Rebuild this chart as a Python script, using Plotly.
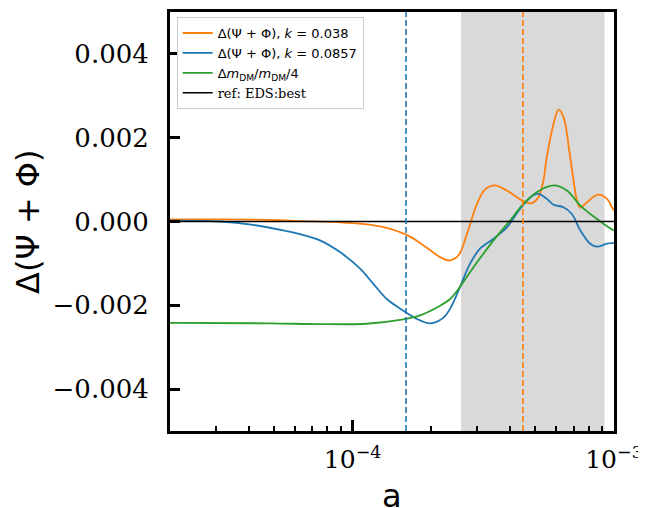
import plotly.graph_objects as go
import math

# ---- data ----
a_k038 = [2.00e-5, 3.10e-5, 4.82e-5, 6.45e-5, 8.18e-5, 1.00e-4, 1.20e-4, 1.35e-4, 1.61e-4, 1.87e-4,
          2.16e-4, 2.35e-4, 2.54e-4, 2.74e-4, 2.99e-4, 3.21e-4, 3.49e-4, 3.89e-4, 4.25e-4, 4.64e-4,
          4.85e-4, 5.14e-4, 5.37e-4, 5.53e-4, 5.87e-4, 6.14e-4, 6.41e-4, 6.80e-4, 7.22e-4, 7.43e-4,
          7.88e-4, 8.69e-4, 9.40e-4, 9.82e-4, 1.00e-3]
d_k038 = [0.00005, 0.00005, 0.00004, 0.00001, -0.00001, -0.00004, -0.00009, -0.00015, -0.00032, -0.00057,
          -0.00085, -0.00093, -0.00081, -0.00029, 0.00042, 0.00076, 0.00086, 0.00074, 0.00058, 0.00045,
          0.00044, 0.00058, 0.00098, 0.00153, 0.00233, 0.00267, 0.00249, 0.00153, 0.00050, 0.00033,
          0.00046, 0.00064, 0.00054, 0.00034, 0.00026]

a_k0857 = [2.00e-5, 3.10e-5, 4.15e-5, 5.60e-5, 6.28e-5, 7.50e-5, 8.94e-5, 1.07e-4, 1.20e-4, 1.35e-4,
           1.52e-4, 1.73e-4, 1.98e-4, 2.22e-4, 2.36e-4, 2.54e-4, 2.81e-4, 3.07e-4, 3.46e-4, 3.89e-4,
           4.37e-4, 4.85e-4, 5.14e-4, 5.53e-4, 5.87e-4, 6.41e-4, 6.90e-4, 7.43e-4, 8.11e-4, 8.61e-4,
           9.40e-4, 1.00e-3]
d_k0857 = [0.00002, 0.00000, -0.00008, -0.00023, -0.00030, -0.00045, -0.00073, -0.00113, -0.00149, -0.00185,
           -0.00208, -0.00230, -0.00243, -0.00230, -0.00208, -0.00165, -0.00101, -0.00065, -0.00041, -0.00014,
           0.00030, 0.00060, 0.00066, 0.00054, 0.00040, 0.00034, 0.00018, -0.00021, -0.00053, -0.00060,
           -0.00053, -0.00051]

a_mdm = [2.00e-5, 4.82e-5, 7.49e-5, 1.13e-4, 1.52e-4, 1.81e-4, 2.16e-4, 2.36e-4, 2.54e-4, 2.90e-4,
         3.46e-4, 4.00e-4, 4.50e-4, 5.06e-4, 5.87e-4, 6.60e-4, 7.43e-4, 8.61e-4, 9.89e-4, 1.00e-3]
d_mdm = [-0.00242, -0.00243, -0.00245, -0.00244, -0.00235, -0.00224, -0.00201, -0.00185, -0.00161, -0.00109,
         -0.00045, 0.00002, 0.00042, 0.00070, 0.00086, 0.00074, 0.00038, 0.00006, -0.00020, -0.00021]

a_ref = [2.0e-5, 1.0e-3]
d_ref = [0.0, 0.0]

a_vline_k0857 = 1.6e-4
a_vline_k038 = 4.48e-4
band_a = [2.6e-4, 9.2e-4]

x_range = [2.0e-5, 1.0e-3]
y_range = [-0.005, 0.005]
y_ticks = [-0.004, -0.002, 0.0, 0.002, 0.004]
x_major = [1e-4, 1e-3]
x_major_text = ["10<sup>−4</sup>", "10<sup>−3</sup>"]
x_minor = [m * 1e-5 for m in range(2, 10)] + [m * 1e-4 for m in range(2, 10)]

ORANGE = "#ff7f0e"
BLUE = "#1f77b4"
GREEN = "#2ca02c"

fig = go.Figure()
fig.add_trace(go.Scatter(x=a_k038, y=d_k038, mode="lines", line=dict(color=ORANGE, width=1.8, shape="spline"),
                         name="Δ(Ψ + Φ), <i>k</i> = 0.038"))
fig.add_trace(go.Scatter(x=a_k0857, y=d_k0857, mode="lines", line=dict(color=BLUE, width=1.8, shape="spline"),
                         name="Δ(Ψ + Φ), <i>k</i> = 0.0857"))
fig.add_trace(go.Scatter(x=a_mdm, y=d_mdm, mode="lines", line=dict(color=GREEN, width=1.8, shape="spline"),
                         name="Δ<i>m</i><sub>DM</sub>/<i>m</i><sub>DM</sub>/4"))
fig.add_trace(go.Scatter(x=a_ref, y=d_ref, mode="lines", line=dict(color="black", width=1.5),
                         name="<span style='font-family:DejaVu Serif'>ref: EDS:best</span>"))

fig.add_shape(type="rect", xref="x", yref="paper", x0=band_a[0], x1=band_a[1], y0=0, y1=1,
              fillcolor="#d9d9d9", line=dict(width=0), layer="below")
fig.add_shape(type="line", xref="x", yref="paper", x0=a_vline_k0857, x1=a_vline_k0857, y0=0, y1=1,
              line=dict(color=BLUE, width=1.6, dash="6px,3px"), layer="above")
fig.add_shape(type="line", xref="x", yref="paper", x0=a_vline_k038, x1=a_vline_k038, y0=0, y1=1,
              line=dict(color=ORANGE, width=1.6, dash="6px,3px"), layer="above")

fig.add_annotation(text="a", xref="paper", yref="paper", x=0.5, y=-0.155, xanchor="center", yanchor="middle",
                   showarrow=False, font=dict(family="DejaVu Sans", size=32, color="black"))
fig.add_annotation(text="Δ(Ψ + Φ)", xref="paper", yref="paper", x=-0.321, y=0.5, xanchor="center",
                   yanchor="middle", textangle=-90, showarrow=False,
                   font=dict(family="DejaVu Sans", size=32, color="black"))

# the page body has an 8px default margin: shrink the figure by 8px and pull left/top margins in
fig.update_layout(
    width=638, height=500,
    margin=dict(l=162, r=32, t=4, b=77),
    paper_bgcolor="white", plot_bgcolor="white",
    showlegend=True,
    legend=dict(x=0.015, y=0.988, xanchor="left", yanchor="top",
                bgcolor="white", bordercolor="#cccccc", borderwidth=1,
                font=dict(family="DejaVu Sans", size=13, color="black"),
                tracegroupgap=0, itemwidth=30),
    xaxis=dict(type="log", range=[math.log10(x_range[0]), math.log10(x_range[1])],
               showgrid=False, zeroline=False, automargin=False,
               showline=True, linecolor="black", linewidth=3, mirror=True,
               ticks="inside", ticklen=11, tickwidth=2.5, tickcolor="black",
               tickmode="array", tickvals=x_major, ticktext=x_major_text,
               ticklabelstandoff=4,
               tickfont=dict(family="DejaVu Serif", size=25, color="black"),
               minor=dict(tickmode="array", tickvals=x_minor, ticks="inside", ticklen=5,
                          tickwidth=1.5, tickcolor="black", showgrid=False)),
    yaxis=dict(range=y_range, showgrid=False, zeroline=False, automargin=False,
               showline=True, linecolor="black", linewidth=3, mirror=True,
               ticks="inside", ticklen=10, tickwidth=2.5, tickcolor="black",
               tickmode="array", tickvals=y_ticks, tickformat=".3f",
               ticklabelstandoff=13,
               tickfont=dict(family="DejaVu Serif", size=26, color="black")),
)

fig.write_html("out.html")
